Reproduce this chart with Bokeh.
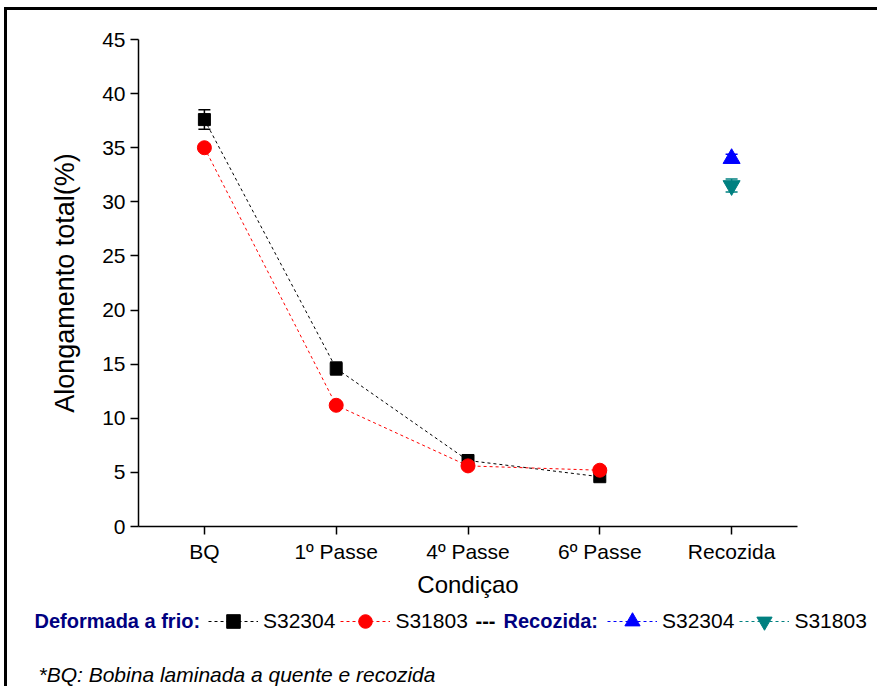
import math
from bokeh.plotting import figure
from bokeh.layouts import row, column
from bokeh.models import (ColumnDataSource, Whisker, TeeHead, Legend, LegendItem,
                          Label, FixedTicker, FactorRange, Range1d, Spacer)
from bokeh.embed import file_html
from bokeh.resources import INLINE

# ---------------- data ----------------
categories = ["BQ", "1º Passe", "4º Passe", "6º Passe", "Recozida"]
cold_cats = ["BQ", "1º Passe", "4º Passe", "6º Passe"]
s32304_cold = [37.6, 14.6, 6.1, 4.6]
s32304_cold_err = [0.9, 0.6, 0.3, 0.3]
s31803_cold = [35.0, 11.2, 5.6, 5.2]
s31803_cold_err = [0.3, 0.3, 0.3, 0.3]
ann_cats = ["Recozida"]
s32304_ann = [34.0]
s32304_ann_err = [0.4]
s31803_ann = [31.5]
s31803_ann_err = [0.6]
y_ticks = [0, 5, 10, 15, 20, 25, 30, 35, 40, 45]

FONT = "Liberation Sans"
TEAL = "#008080"
NAVY = "#000080"
BLACK_BAR = {"background-color": "black"}


def bare(w, h, xr, yr):
    f = figure(width=w, height=h, output_backend="svg", toolbar_location=None,
               x_range=xr, y_range=yr)
    f.min_border = 0
    f.axis.visible = False
    f.grid.visible = False
    f.outline_line_color = None
    f.background_fill_color = "white"
    f.border_fill_color = "white"
    return f

# ---------------- main plot ----------------
p = figure(width=870, height=590, output_backend="svg", toolbar_location=None,
           x_range=FactorRange(factors=categories, range_padding=0),
           y_range=Range1d(0, 45))
p.min_border_left = 131
p.min_border_right = 80
p.min_border_top = 29
p.min_border_bottom = 73
p.outline_line_color = None
p.grid.visible = False
p.background_fill_color = "white"
p.border_fill_color = "white"

for ax in (p.xaxis[0], p.yaxis[0]):
    ax.axis_line_width = 1.5
    ax.axis_line_color = "black"
    ax.major_tick_line_width = 1.5
    ax.major_tick_line_color = "black"
    ax.major_tick_out = 8
    ax.major_tick_in = 0
    ax.minor_tick_line_color = None
    ax.major_label_text_font = FONT
    ax.major_label_text_font_size = "21px"
    ax.major_label_text_color = "black"
    ax.axis_label_text_font = FONT
    ax.axis_label_text_font_style = "normal"
    ax.axis_label_text_color = "black"
    ax.major_label_standoff = 5

p.yaxis.ticker = FixedTicker(ticks=y_ticks)
p.yaxis.axis_label = "Alongamento total(%)"
p.yaxis.axis_label_text_font_size = "27px"
p.yaxis.axis_label_standoff = 19
p.xaxis.axis_label = "Condiçao"
p.xaxis.axis_label_text_font_size = "24px"
p.xaxis.axis_label_standoff = 5


def src(cats, vals, errs):
    return ColumnDataSource(dict(x=cats, y=vals,
                                 lo=[v - e for v, e in zip(vals, errs)],
                                 hi=[v + e for v, e in zip(vals, errs)]))

src_a = src(cold_cats, s32304_cold, s32304_cold_err)
src_b = src(cold_cats, s31803_cold, s31803_cold_err)
src_c = src(ann_cats, s32304_ann, s32304_ann_err)
src_d = src(ann_cats, s31803_ann, s31803_ann_err)


def whisker(s, color):
    p.add_layout(Whisker(source=s, base="x", lower="lo", upper="hi",
                         line_color=color, line_width=1.5,
                         upper_head=TeeHead(size=12, line_color=color, line_width=1.5),
                         lower_head=TeeHead(size=12, line_color=color, line_width=1.5)))

whisker(src_a, "black")
whisker(src_b, "red")
whisker(src_c, "blue")
whisker(src_d, TEAL)

styles = [
    ("black", "square", 12),
    ("red", "circle", 14),
    ("blue", "triangle", 17),
    (TEAL, "inverted_triangle", 17),
]

p.line("x", "y", source=src_a, line_color="black", line_width=1, line_dash="3 3")
p.line("x", "y", source=src_b, line_color="red", line_width=1, line_dash="3 3")
for s, (c, m, sz) in zip([src_a, src_b, src_c, src_d], styles):
    p.scatter("x", "y", source=s, marker=m, size=sz, fill_color=c, line_color=c)

# ---------------- legend / footnote panel ----------------
q = bare(870, 86, Range1d(0, 870), Range1d(0, 86))
proxies = []
for c, m, sz in styles:
    ps = ColumnDataSource(dict(x=[math.nan], y=[math.nan]))
    l = q.line("x", "y", source=ps, line_color=c, line_width=1, line_dash="3 3")
    k = q.scatter("x", "y", source=ps, marker=m, size=sz, fill_color=c, line_color=c)
    proxies.append([l, k])


def mk_legend(items, loc, gh):
    q.add_layout(Legend(items=items, location=loc, orientation="horizontal",
                        glyph_width=50, glyph_height=gh, label_standoff=5, spacing=5,
                        padding=0, margin=0, border_line_color=None, background_fill_alpha=0,
                        label_text_font=FONT, label_text_font_size="21px",
                        label_text_color="black"), "center")

mk_legend([LegendItem(label="S32304", renderers=proxies[0]),
           LegendItem(label="S31803", renderers=proxies[1])], (201, 48), 34)
mk_legend([LegendItem(label="S32304", renderers=proxies[2]),
           LegendItem(label="S31803", renderers=proxies[3])], (600, 46), 38)


def lab(text, x, y, color="black", style="normal", size="20px"):
    q.add_layout(Label(x=x, y=y, x_units="screen", y_units="screen", text=text,
                       text_font=FONT, text_font_size=size, text_font_style=style,
                       text_color=color, text_baseline="middle", text_align="left"))

lab("Deformada a frio:", 27, 66, color=NAVY, style="bold")
lab("---", 468, 66, style="bold")
lab("Recozida:", 496, 66, color=NAVY, style="bold")
lab("*BQ: Bobina laminada a quente e recozida", 31, 12, style="italic", size="21px")

# ---------------- outer border (top and left) ----------------
left_col = column(Spacer(width=3, height=7),
                  Spacer(width=3, height=679, styles=BLACK_BAR))
right_col = column(Spacer(width=870, height=7),
                   Spacer(width=870, height=3, styles=BLACK_BAR),
                   row(p), row(q))
layout = row(Spacer(width=4, height=686), left_col, right_col)
open("out.html", "w").write(file_html(layout, INLINE))
